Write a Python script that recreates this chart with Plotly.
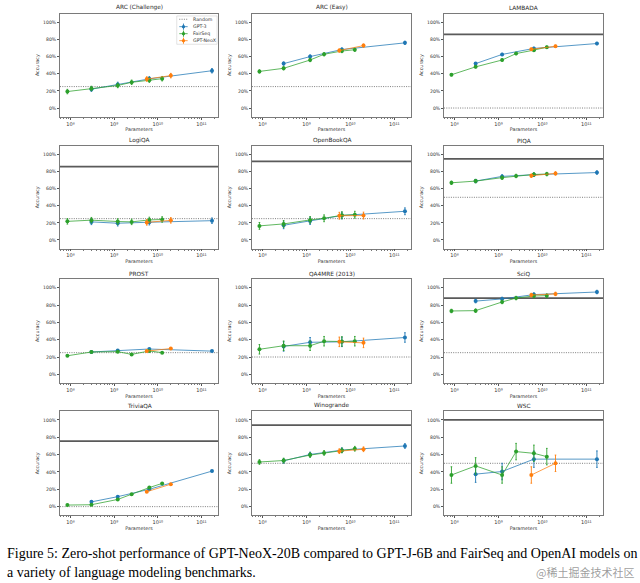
import plotly.graph_objects as go
from plotly.subplots import make_subplots

# ---------------- data ----------------
benchmarks = ["ARC (Challenge)", "ARC (Easy)", "LAMBADA", "LogiQA", "OpenBookQA", "PIQA",
              "PROST", "QA4MRE (2013)", "SciQ", "TriviaQA", "Winogrande", "WSC"]

gpt3_params = [3.02e8, 1.21e9, 6.41e9, 1.746e11]
fairseq_params = [8.5e7, 3.02e8, 1.21e9, 2.52e9, 6.41e9, 1.26e10]
neox_params = [5.6e9, 1.99e10]

# accuracy in %, one row per benchmark (same order as `benchmarks`)
gpt3_acc = [
    [22.0, 27.5, 34.0, 43.5],
    [51.8, 60.0, 68.2, 76.0],
    [51.8, 62.5, 69.5, 75.2],
    [21.2, 19.6, 20.8, 22.6],
    [17.2, 22.2, 28.6, 33.6],
    [69.0, 74.5, 76.5, 79.0],
    [25.8, 27.6, 29.2, 26.8],
    [32.2, 37.0, 37.5, 42.5],
    [84.5, 87.0, 92.0, 95.0],
    [5.5, 11.5, 20.0, 41.0],
    [52.8, 60.2, 65.2, 70.0],
    [37.5, 40.5, 54.8, 54.8],
]
fairseq_acc = [
    [19.2, 22.8, 26.3, 30.0, 32.5, 34.2],
    [42.7, 46.3, 56.0, 62.7, 66.5, 68.0],
    [38.8, 48.0, 56.0, 63.5, 67.5, 71.0],
    [21.8, 23.2, 21.6, 21.2, 23.5, 24.0],
    [16.5, 18.8, 23.5, 25.4, 29.0, 29.6],
    [67.0, 69.0, 73.0, 75.0, 76.8, 77.2],
    [21.4, 25.8, 26.2, 23.0, 27.0, 25.0],
    [28.9, 33.0, 33.0, 38.2, 37.9, 38.2],
    [73.1, 73.5, 83.5, 88.0, 90.4, 90.8],
    [1.8, 2.2, 8.3, 14.4, 22.0, 26.8],
    [51.5, 53.2, 59.5, 62.0, 64.8, 66.8],
    [36.5, 47.0, 36.5, 63.5, 61.5, 57.7],
]
neox_acc = [
    [33.8, 37.8],
    [67.0, 72.8],
    [68.5, 72.0],
    [20.6, 23.0],
    [28.4, 28.6],
    [75.3, 78.0],
    [26.8, 29.8],
    [37.5, 36.3],
    [91.5, 92.8],
    [17.2, 25.9],
    [64.0, 66.2],
    [36.5, 50.0],
]
# half-length of the error bars (%), per benchmark
err_bar = [2.6, 1.9, 1.3, 3.2, 4.0, 2.0, 0.6, 5.5, 2.0, 0.8, 2.7, 9.5]
random_baseline = [25, 25, 0, 25, 25, 50, 25, 20, 25, 0, 50, 50]
human_baseline = [None, None, 86, 86, 92, 95, None, None, 88, 75.5, 94, 100]

x_tick_vals = [1e8, 1e9, 1e10, 1e11]
x_tick_text = ["10⁸", "10⁹", "10¹⁰", "10¹¹"]
y_tick_vals = [0, 20, 40, 60, 80, 100]
y_tick_text = ["0%", "20%", "40%", "60%", "80%", "100%"]

series_names = ["GPT-3", "FairSeq", "GPT-NeoX"]
series_colors = ["#1f77b4", "#2ca02c", "#ff7f0e"]
line_colors = ["rgba(31,119,180,0.75)", "rgba(44,160,44,0.75)", "rgba(255,127,14,0.75)"]

caption_1 = "Figure 5: Zero-shot performance of GPT-NeoX-20B compared to GPT-J-6B and FairSeq and OpenAI models on"
caption_2 = "a variety of language modeling benchmarks."
watermark = "@稀土掘金技术社区"

# ---------------- layout geometry ----------------
W, H = 640, 583
col_px = [(60, 218), (252, 411), (444, 603)]
row_px = [(13.7, 116.6), (146.1, 248.5), (279, 383), (411.3, 515.3)]
x_log_range = [7.76, 11.38]

FONT = "DejaVu Sans"
TXT = "#333333"
DOT = "1px,1.3px"

fig = make_subplots(rows=4, cols=3)
x_span = [10 ** x_log_range[0], 10 ** x_log_range[1]]

for i, name in enumerate(benchmarks):
    r, c = i // 3 + 1, i % 3 + 1
    params_list = [gpt3_params, fairseq_params, neox_params]
    acc_list = [gpt3_acc[i], fairseq_acc[i], neox_acc[i]]

    # baselines (drawn first so the model curves sit on top)
    fig.add_trace(go.Scatter(x=x_span, y=[random_baseline[i]] * 2, mode="lines", name="Random",
                             showlegend=False, hoverinfo="skip",
                             line=dict(color="#707070", width=0.9, dash=DOT)), row=r, col=c)
    if human_baseline[i] is not None:
        fig.add_trace(go.Scatter(x=x_span, y=[human_baseline[i]] * 2, mode="lines", name="Human",
                                 showlegend=False, hoverinfo="skip",
                                 line=dict(color="#5a5a5a", width=1.7)), row=r, col=c)

    for s in range(3):
        fig.add_trace(go.Scatter(
            x=params_list[s], y=acc_list[s], mode="lines+markers", name=series_names[s],
            showlegend=False,
            line=dict(color=line_colors[s], width=1),
            marker=dict(color=series_colors[s], size=4),
            error_y=dict(type="constant", value=err_bar[i], color=series_colors[s],
                         thickness=0.9, width=0.8),
        ), row=r, col=c)

    x0, x1 = col_px[c - 1]
    y0, y1 = row_px[r - 1]
    fig.update_xaxes(row=r, col=c, domain=[x0 / W, x1 / W])
    fig.update_yaxes(row=r, col=c, domain=[1 - y1 / H, 1 - y0 / H])

    n = "" if i == 0 else str(i + 1)
    fig.add_annotation(text=name, xref=f"x{n} domain", yref=f"y{n} domain", x=0.5, y=1,
                       xanchor="center", yanchor="bottom", yshift=0.5, showarrow=False,
                       font=dict(family=FONT, size=5.8, color="#2a2a2a"))

minor_vals = [m * 10 ** d for d in range(7, 12) for m in range(2, 10)]

fig.update_xaxes(type="log", range=x_log_range, showgrid=False, zeroline=False,
                 showline=True, mirror=True, linecolor="#7a7a7a", linewidth=0.8,
                 tickmode="array", tickvals=x_tick_vals, ticktext=x_tick_text,
                 ticks="outside", ticklen=2, tickwidth=0.6, tickcolor="#555",
                 minor=dict(tickmode="array", tickvals=minor_vals, ticks="outside",
                            ticklen=1.2, tickwidth=0.5, tickcolor="#777", showgrid=False),
                 tickfont=dict(family=FONT, size=5, color=TXT),
                 title=dict(text="Parameters", font=dict(family=FONT, size=4.8, color=TXT), standoff=2),
                 automargin=False)
fig.update_yaxes(range=[-10, 110], showgrid=False, zeroline=False,
                 showline=True, mirror=True, linecolor="#7a7a7a", linewidth=0.8,
                 tickmode="array", tickvals=y_tick_vals, ticktext=y_tick_text,
                 ticks="outside", ticklen=2, tickwidth=0.6, tickcolor="#555",
                 tickfont=dict(family=FONT, size=4.6, color=TXT),
                 title=dict(text="Accuracy", font=dict(family=FONT, size=4.8, color=TXT), standoff=3),
                 automargin=False)

# ---------------- legend (drawn inside first panel) ----------------
leg_names = ["Random"] + series_names
leg_colors = ["#707070"] + series_colors
leg_y = [0.946, 0.874, 0.806, 0.738]
fig.add_shape(type="rect", xref="x domain", yref="y domain", x0=0.739, x1=0.994, y0=0.703, y1=0.978,
              line=dict(color="#d0d0d0", width=0.6), fillcolor="rgba(255,255,255,0.85)", layer="above")
for k in range(4):
    yy = leg_y[k]
    fig.add_shape(type="line", xref="x domain", yref="y domain", x0=0.755, x1=0.808, y0=yy, y1=yy,
                  line=dict(color=leg_colors[k] if k == 0 else line_colors[k - 1], width=0.9 if k == 0 else 1,
                            dash=DOT if k == 0 else "solid"), layer="above")
    if k > 0:
        fig.add_shape(type="line", xref="x domain", yref="y domain", x0=0.7815, x1=0.7815,
                      y0=yy - 0.03, y1=yy + 0.03, line=dict(color=leg_colors[k], width=0.9), layer="above")
        fig.add_shape(type="circle", xref="x domain", yref="y domain", x0=0.7815 - 0.0105, x1=0.7815 + 0.0105,
                      y0=yy - 0.0165, y1=yy + 0.0165, line=dict(width=0), fillcolor=leg_colors[k], layer="above")
    fig.add_annotation(text=leg_names[k], xref="x domain", yref="y domain", x=0.829, y=yy,
                       xanchor="left", yanchor="middle", showarrow=False,
                       font=dict(family=FONT, size=4.7, color=TXT))

# ---------------- caption & watermark ----------------
fig.add_annotation(text=caption_1, xref="paper", yref="paper", x=5 / W, y=1 - 553 / H,
                   xanchor="left", yanchor="middle", showarrow=False,
                   font=dict(family="Liberation Serif", size=14, color="black"))
fig.add_annotation(text=caption_2, xref="paper", yref="paper", x=5 / W, y=1 - 572 / H,
                   xanchor="left", yanchor="middle", showarrow=False,
                   font=dict(family="Liberation Serif", size=14, color="black"))
fig.add_annotation(text=watermark, xref="paper", yref="paper", x=636 / W, y=1 - 572 / H,
                   xanchor="right", yanchor="middle", showarrow=False,
                   font=dict(family="Noto Sans CJK SC", size=11, color="rgba(140,140,140,0.85)"))

fig.update_layout(width=W, height=H, margin=dict(l=0, r=0, t=0, b=0),
                  paper_bgcolor="white", plot_bgcolor="white", template="none",
                  showlegend=False)

fig.write_html("out.html", config={"displayModeBar": False},
               post_script="document.body.style.margin='0';document.body.style.overflow='hidden';")
